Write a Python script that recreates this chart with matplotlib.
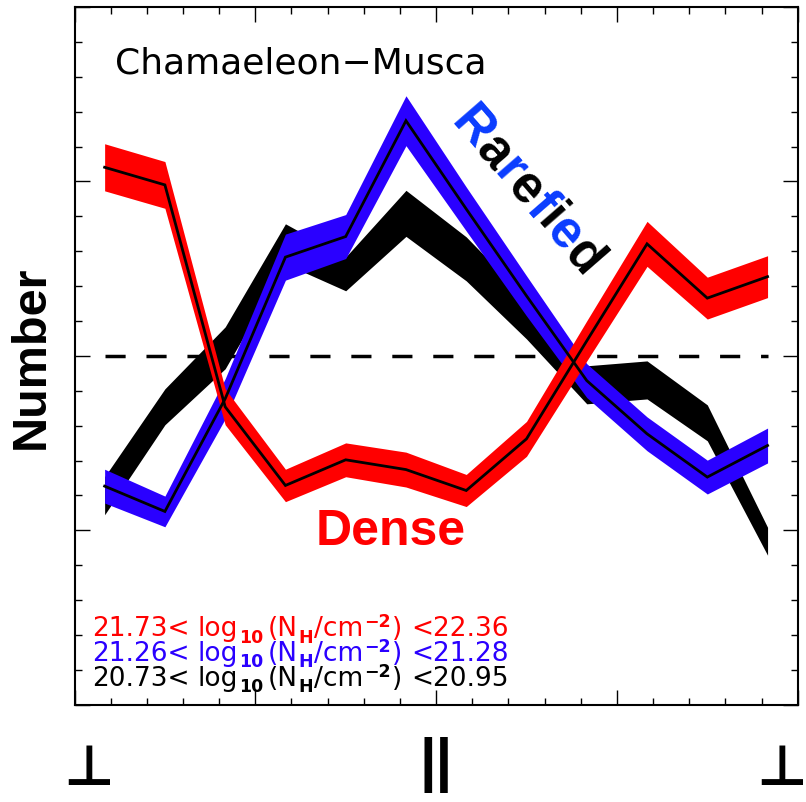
import numpy as np
import matplotlib
matplotlib.use("Agg")
import matplotlib.pyplot as plt
from matplotlib.ticker import MultipleLocator
from matplotlib.font_manager import FontProperties

# Relative orientation bins (degrees), centres of 15-degree bins
angle = [-82.5, -67.5, -52.5, -37.5, -22.5, -7.5, 7.5, 22.5, 37.5, 52.5, 67.5, 82.5]

# Dense column-density bin: 21.73 < log10(NH) < 22.36
dense = [3.081, 2.980, 1.708, 1.257, 1.404, 1.348, 1.228, 1.524, 2.086, 2.642, 2.331, 2.454]
dense_err = [0.135, 0.134, 0.103, 0.093, 0.097, 0.100, 0.092, 0.100, 0.115, 0.129, 0.120, 0.120]

# Rarefied bin: 21.26 < log10(NH) < 21.28
rarefied = [1.253, 1.108, 1.754, 2.566, 2.684, 3.348, 2.842, 2.344, 1.858, 1.553, 1.305, 1.486]
rarefied_err = [0.097, 0.088, 0.115, 0.132, 0.126, 0.143, 0.126, 0.115, 0.097, 0.097, 0.097, 0.100]

# Lowest bin: 20.73 < log10(NH) < 20.95
low = [1.198, 1.708, 2.046, 2.642, 2.470, 2.817, 2.556, 2.212, 1.834, 1.862, 1.616, 0.937]
low_err = [0.109, 0.103, 0.120, 0.115, 0.097, 0.132, 0.126, 0.115, 0.109, 0.109, 0.103, 0.080]

# column-density ranges of the three bins (lower, upper)
ranges = [("21.73", "22.36"), ("21.26", "21.28"), ("20.73", "20.95")]

mean_level = 2.0

RED = "#ff0000"
BLUE = "#2a00ff"
WORD_BLUE = "#0a3cff"

fig = plt.figure(figsize=(8.06, 8.03), dpi=100)
ax = fig.add_axes([74.5 / 806, 1 - 705.7 / 803, (797.7 - 74.5) / 806, (705.7 - 8) / 803])
renderer = fig.canvas.get_renderer()

a = np.array(angle)

def band(vals, errs, color, line):
    v = np.array(vals)
    e = np.array(errs)
    ax.fill_between(a, v - e, v + e, color=color, lw=0, zorder=2)
    if line:
        ax.plot(a, v, color="black", lw=2.0, zorder=3, solid_joinstyle="miter")

band(low, low_err, "black", False)
band(rarefied, rarefied_err, BLUE, True)
band(dense, dense_err, RED, True)

ax.plot([angle[0], angle[-1]], [mean_level, mean_level], color="black", lw=2.5,
        linestyle=(0, (5.8, 6.0)), zorder=1)

ax.set_xlim(-90, 90)
ax.set_ylim(0, 4)
ax.xaxis.set_major_locator(MultipleLocator(45))
ax.xaxis.set_minor_locator(MultipleLocator(9))
ax.yaxis.set_major_locator(MultipleLocator(1))
ax.yaxis.set_minor_locator(MultipleLocator(0.2))
ax.tick_params(which="both", direction="in", top=True, right=True,
               labelbottom=False, labelleft=False, width=1.0)
ax.tick_params(which="major", length=10.5)
ax.tick_params(which="minor", length=5)
for s in ax.spines.values():
    s.set_linewidth(1.5)

ax.set_ylabel("Number", fontsize=35, fontweight="bold", family="Liberation Sans", labelpad=15)

# orientation labels under the axis
xt = ax.get_xaxis_transform()
for xpos in (-86.6, 85.9):
    ax.text(xpos, -0.114, "\u22a5", transform=xt, ha="center", va="baseline",
            fontsize=40, fontweight="bold", family="DejaVu Sans")
ax.text(0, -0.045, "||", transform=xt, ha="center", va="top", fontsize=43,
        fontweight="bold", family="Liberation Sans")

ax.text(-79.9, 3.622, "Chamaeleon\u2212Musca", fontsize=26, family="DejaVu Sans",
        ha="left", va="baseline")

ax.text(-30.1, 0.923, "Dense", fontsize=36, fontweight="bold", family="Liberation Sans",
        color=RED, ha="left", va="baseline")


def run_of_text(x, y, pieces, color):
    """Write consecutive pieces of text on one baseline; each piece is
    (string, size, bold, vertical shift in points, extra gap in pixels before it)."""
    off = 0.0
    for s, size, bold, dy, gap in pieces:
        off += gap
        prop = FontProperties(family="DejaVu Sans", size=size,
                              weight="bold" if bold else "normal")
        ax.annotate(s, xy=(x, y), xytext=(off * 72.0 / fig.dpi, dy),
                    textcoords="offset points", fontproperties=prop, color=color,
                    ha="left", va="baseline")
        w, _, _ = renderer.get_text_width_height_descent(s, prop, ismath=False)
        off += w


MAIN, SMALL = 19, 12.5
for (lo, hi), col, yv in zip(ranges, [RED, BLUE, "black"], [0.398, 0.255, 0.112]):
    pieces = [
        (lo + "<", MAIN, False, 0, 0),
        ("log", MAIN, False, 0, 8),
        ("10", SMALL, True, -4.5, 1),
        ("(N", MAIN, False, 0, 4),
        ("H", SMALL, True, -4.5, 1),
        ("/cm", MAIN, False, 0, 1),
        ("\u22122", SMALL, True, 6.5, 1),
        (")", MAIN, False, 0, 1),
        ("<" + hi, MAIN, False, 0, 9),
    ]
    run_of_text(-85.6, yv, pieces, col)

# "Rarefied" written along the descending branch, letters alternating colour
prop = FontProperties(family="Liberation Sans", weight="bold", size=37)
word = "Rarefied"
rot = -49.0
x0, y0 = 3.3, 3.34
for i, ch in enumerate(word):
    if i:
        w, _, _ = renderer.get_text_width_height_descent(word[:i], prop, ismath=False)
    else:
        w = 0.0
    off = w * 72.0 / fig.dpi
    dx = off * np.cos(np.radians(rot))
    dy = off * np.sin(np.radians(rot))
    ax.annotate(ch, xy=(x0, y0), xytext=(dx, dy), textcoords="offset points",
                rotation=rot, rotation_mode="anchor", ha="left", va="baseline",
                fontproperties=prop, color=WORD_BLUE if i % 2 == 0 else "black",
                zorder=5)

fig.savefig("out.png", dpi=100)
